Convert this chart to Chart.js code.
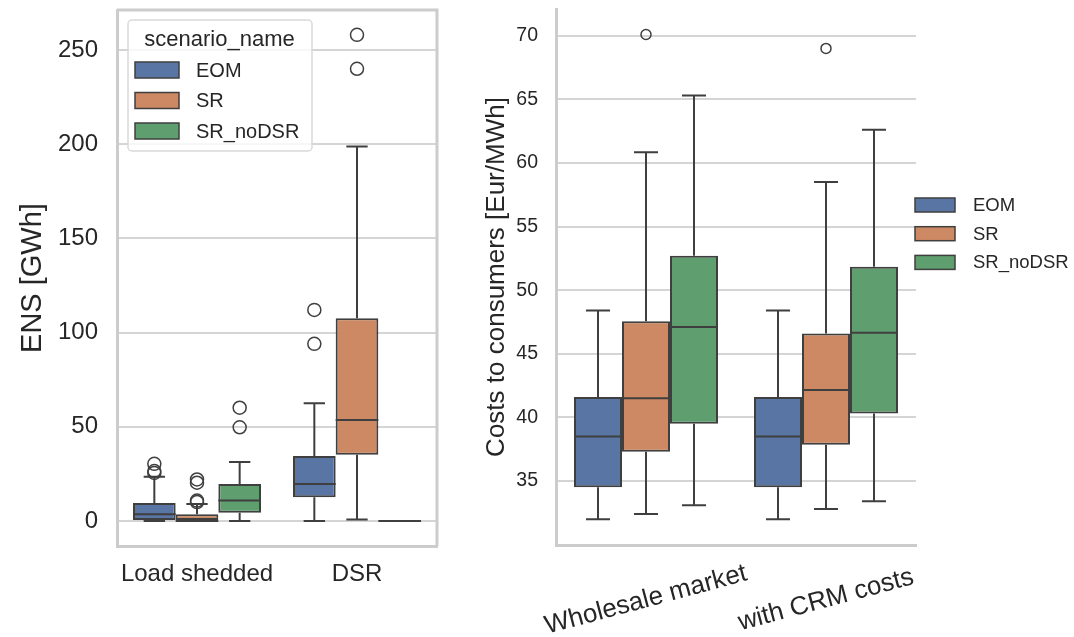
<!DOCTYPE html>
<html>
<head>
<meta charset="utf-8">
<script src="https://cdn.jsdelivr.net/npm/chart.js@4.4.1/dist/chart.umd.min.js"></script>
<style>
  body { margin: 0; background: #fff; }
  #wrap { position: relative; width: 1074px; height: 637px; }
  canvas { position: absolute; top: 0; }
  #ens { left: 0; }
  #cost { left: 460px; }
</style>
</head>
<body>
<div id="wrap">
  <canvas id="ens" width="460" height="637"></canvas>
  <canvas id="cost" width="614" height="637"></canvas>
</div>
<script>
const scenarios = ['EOM', 'SR', 'SR_noDSR'];
const colors = ['#5975a4', '#cc8963', '#5f9e6e'];

// left panel, each box is [lower whisker, q1, median, q3, upper whisker]
const ensCategories = ['Load shedded', 'DSR'];
const ensTicks = [0, 50, 100, 150, 200, 250];
const ensEOM = [[0, 0, 3.5, 9.5, 23.5], [0, 12.6, 19.6, 34.5, 62.5]];
const ensSR = [[0, 0, 0, 3.5, 9], [0.7, 35.2, 53.6, 107.6, 198.7]];
const ensNoDSR = [[0, 4.4, 10.8, 19.6, 31.3], [0, 0, 0, 0, 0]];
const ensOutEOM = [[25.5, 26.5, 30.3], [94, 112]];
const ensOutSR = [[10, 10.8, 20.3, 22], [240, 258]];
const ensOutNoDSR = [[49.7, 60.1], []];

// right panel
const costCategories = ['Wholesale market', 'with CRM costs'];
const costTicks = [35, 40, 45, 50, 55, 60, 65, 70];
const costEOM = [[32, 34.5, 38.5, 41.6, 48.4], [32, 34.5, 38.5, 41.6, 48.4]];
const costSR = [[32.4, 37.3, 41.5, 47.55, 60.85], [32.8, 37.85, 42.15, 46.6, 58.5]];
const costNoDSR = [[33.1, 39.5, 47.1, 52.7, 65.3], [33.4, 40.3, 46.65, 51.85, 62.6]];
const costOutEOM = [[], []];
const costOutSR = [[70.1], [69]];
const costOutNoDSR = [[], []];

const family = "'Liberation Sans', Arial, sans-serif";
const textColor = '#262626';
const edge = '#3f3f3f';
const spine = '#cccccc';
const gridColor = '#d5d5d5';

Chart.defaults.font.family = family;
Chart.defaults.color = textColor;

function boxDatasets(groups, outs) {
  return scenarios.map((name, i) => ({
    label: name,
    data: groups[i].map(s => [s[1], s[3]]),
    stats: groups[i],
    outliers: outs[i],
    backgroundColor: colors[i],
    borderColor: edge,
    borderWidth: 2,
    borderSkipped: false,
    categoryPercentage: 0.8,
    barPercentage: 1
  }));
}

// whiskers, medians and fliers on top of the floating bars
const boxPlot = {
  id: 'boxPlot',
  afterDatasetsDraw(chart, args, opts) {
    const ctx = chart.ctx;
    const y = chart.scales.y;
    ctx.save();
    ctx.strokeStyle = edge;
    chart.data.datasets.forEach((ds, i) => {
      chart.getDatasetMeta(i).data.forEach((bar, j) => {
        const [lo, q1, med, q3, hi] = ds.stats[j].map(v => y.getPixelForValue(v));
        const x = bar.x, w = bar.width;
        ctx.lineWidth = 2;
        ctx.beginPath();
        ctx.moveTo(x, q3); ctx.lineTo(x, hi);
        ctx.moveTo(x, q1); ctx.lineTo(x, lo);
        ctx.moveTo(x - w / 4, hi); ctx.lineTo(x + w / 4, hi);
        ctx.moveTo(x - w / 4, lo); ctx.lineTo(x + w / 4, lo);
        ctx.moveTo(x - w / 2, med); ctx.lineTo(x + w / 2, med);
        ctx.stroke();
        ctx.lineWidth = 1.5;
        ds.outliers[j].forEach(v => {
          ctx.beginPath();
          ctx.arc(x, y.getPixelForValue(v), opts.radius, 0, Math.PI * 2);
          ctx.stroke();
        });
      });
    });
    ctx.restore();
  }
};

// hand-drawn legend so it can sit inside / beside the axes
const boxLegend = {
  id: 'boxLegend',
  afterDraw(chart, args, o) {
    const ctx = chart.ctx;
    ctx.save();
    if (o.frame) {
      const [fx, fy, fw, fh] = o.frame;
      ctx.beginPath();
      ctx.roundRect(fx, fy, fw, fh, 4);
      ctx.fillStyle = 'rgba(255,255,255,0.8)';
      ctx.fill();
      ctx.strokeStyle = '#d9d9d9';
      ctx.lineWidth = 1.5;
      ctx.stroke();
    }
    ctx.fillStyle = textColor;
    ctx.textBaseline = 'middle';
    if (o.title) {
      ctx.font = o.titleSize + 'px ' + family;
      ctx.textAlign = 'center';
      ctx.fillText(o.title, o.titleX, o.titleY);
    }
    ctx.font = o.size + 'px ' + family;
    ctx.textAlign = 'left';
    chart.data.datasets.forEach((ds, i) => {
      const cy = o.y + i * o.dy;
      ctx.fillStyle = ds.backgroundColor;
      ctx.fillRect(o.x, cy - o.sh / 2, o.sw, o.sh);
      ctx.strokeStyle = edge;
      ctx.lineWidth = 1.5;
      ctx.strokeRect(o.x, cy - o.sh / 2, o.sw, o.sh);
      ctx.fillStyle = textColor;
      ctx.fillText(ds.label, o.textX, cy + 1);
    });
    ctx.restore();
  }
};

// top and right spines for the left panel
const frame = {
  id: 'frame',
  beforeDatasetsDraw(chart) {
    const {ctx, chartArea: a} = chart;
    ctx.save();
    ctx.strokeStyle = spine;
    ctx.lineWidth = 3;
    ctx.beginPath();
    ctx.moveTo(a.left, a.top); ctx.lineTo(a.right, a.top); ctx.lineTo(a.right, a.bottom);
    ctx.stroke();
    ctx.restore();
  }
};

// centred, rotated category labels for the right panel
const slantLabels = {
  id: 'slantLabels',
  afterDraw(chart, args, o) {
    const ctx = chart.ctx;
    const xs = chart.scales.x;
    ctx.save();
    ctx.fillStyle = textColor;
    ctx.font = o.size + 'px ' + family;
    ctx.textAlign = 'center';
    ctx.textBaseline = 'middle';
    chart.data.labels.forEach((lab, j) => {
      ctx.save();
      ctx.translate(xs.getPixelForValue(j), o.y);
      ctx.rotate(-15 * Math.PI / 180);
      ctx.fillText(lab, 0, 0);
      ctx.restore();
    });
    ctx.restore();
  }
};

new Chart(document.getElementById('ens'), {
  type: 'bar',
  data: {
    labels: ensCategories,
    datasets: boxDatasets([ensEOM, ensSR, ensNoDSR], [ensOutEOM, ensOutSR, ensOutNoDSR])
  },
  options: {
    responsive: false,
    animation: false,
    layout: { padding: { left: 0, top: 10, right: 23, bottom: 0 } },
    plugins: {
      legend: { display: false },
      tooltip: { enabled: false },
      boxPlot: { radius: 6.5 },
      boxLegend: {
        frame: [128, 20, 184, 131], title: 'scenario_name', titleSize: 22, titleX: 219.5, titleY: 40,
        x: 135, y: 70, dy: 30.5, sw: 44, sh: 16, textX: 196, size: 20
      }
    },
    scales: {
      x: {
        grid: { display: false },
        border: { color: spine, width: 3 },
        ticks: { font: { size: 24 }, padding: 6 },
        afterFit(s) { s.height = 91; s.paddingLeft = 0; s.paddingRight = 0; }
      },
      y: {
        min: -13.3,
        max: 271.2,
        afterBuildTicks(s) { s.ticks = ensTicks.map(v => ({ value: v })); },
        grid: { color: gridColor, lineWidth: 2, drawTicks: false },
        border: { color: spine, width: 3 },
        ticks: { font: { size: 24 }, padding: 19 },
        title: { display: true, text: 'ENS [GWh]', font: { size: 29, lineHeight: 1 }, padding: { top: 18.5, bottom: 0 } },
        afterFit(s) { s.width = 117; s.paddingTop = 0; s.paddingBottom = 0; }
      }
    }
  },
  plugins: [frame, boxPlot, boxLegend]
});

new Chart(document.getElementById('cost'), {
  type: 'bar',
  data: {
    labels: costCategories,
    datasets: boxDatasets([costEOM, costSR, costNoDSR], [costOutEOM, costOutSR, costOutNoDSR])
  },
  options: {
    responsive: false,
    animation: false,
    layout: { padding: { left: 0, top: 9, right: 158, bottom: 0 } },
    plugins: {
      legend: { display: false },
      tooltip: { enabled: false },
      boxPlot: { radius: 5 },
      boxLegend: { x: 455, y: 205, dy: 28.7, sw: 40, sh: 14, textX: 513, size: 18.5 },
      slantLabels: { y: 600, size: 26 }
    },
    scales: {
      x: {
        grid: { display: false },
        border: { color: spine, width: 3 },
        ticks: { display: false },
        afterFit(s) { s.height = 92; s.paddingLeft = 0; s.paddingRight = 0; }
      },
      y: {
        min: 29.97,
        max: 72.1,
        afterBuildTicks(s) { s.ticks = costTicks.map(v => ({ value: v })); },
        grid: { color: gridColor, lineWidth: 2, drawTicks: false },
        border: { color: spine, width: 3 },
        ticks: { font: { size: 19.5 }, padding: 18 },
        title: { display: true, text: 'Costs to consumers [Eur/MWh]', font: { size: 26, lineHeight: 1 }, padding: { top: 24, bottom: 0 } },
        afterFit(s) { s.width = 96; s.paddingTop = 0; s.paddingBottom = 0; }
      }
    }
  },
  plugins: [boxPlot, boxLegend, slantLabels]
});
</script>
</body>
</html>
